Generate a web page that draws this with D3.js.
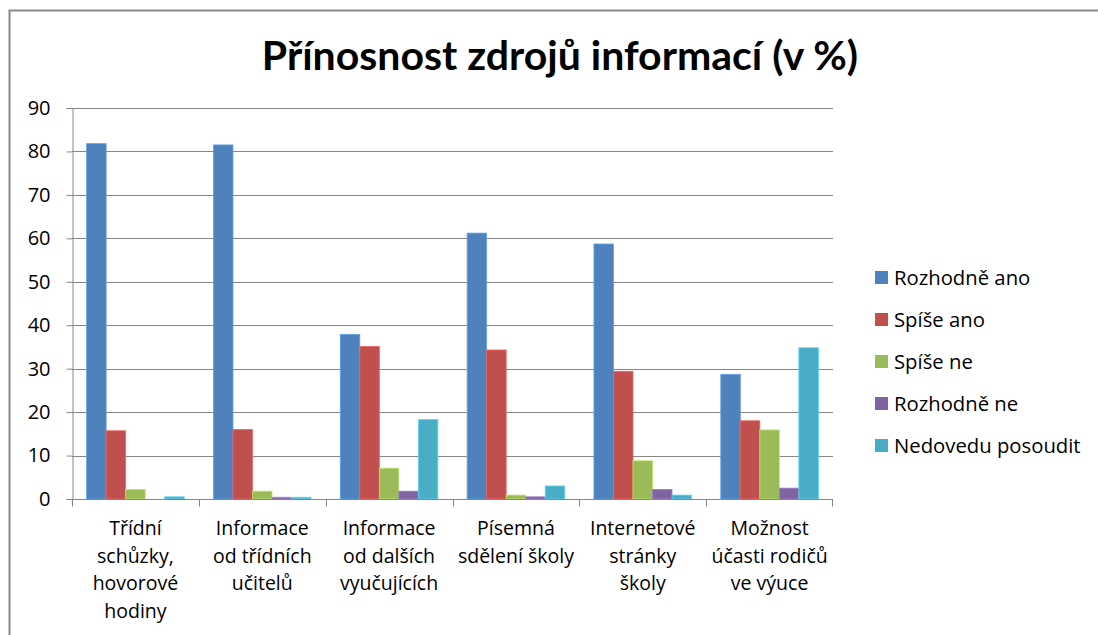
<!DOCTYPE html>
<html>
<head>
<meta charset="utf-8">
<script src="https://cdn.jsdelivr.net/npm/d3@7"></script>
<style>
  body { margin: 0; background: #fff; }
  svg { display: block; font-family: "Open Sans", Lato, sans-serif; }
</style>
</head>
<body>
<div id="chart"></div>
<script>
// categories (each label already split into its display lines)
var categories = ["trid", "ucit", "dals", "pise", "inet", "mozn"];
var categoryLines = [
    ["Třídní", "schůzky,", "hovorové", "hodiny"],
    ["Informace", "od třídních", "učitelů"],
    ["Informace", "od dalších", "vyučujících"],
    ["Písemná", "sdělení školy"],
    ["Internetové", "stránky", "školy"],
    ["Možnost", "účasti rodičů", "ve výuce"]
];
var series = ["Rozhodně ano", "Spíše ano", "Spíše ne", "Rozhodně ne", "Nedovedu posoudit"];
var colors = ["#4f81bd", "#c0504d", "#9bbb59", "#8064a2", "#4bacc6"];

// values per series, in category order
var rozhodneAno = [81.8, 81.5, 37.9, 61.2, 58.7, 28.7];
var spiseAno = [15.7, 16.0, 35.1, 34.3, 29.4, 18.0];
var spiseNe = [2.2, 1.8, 7.1, 0.9, 8.8, 15.9];
var rozhodneNe = [0, 0.4, 1.8, 0.5, 2.2, 2.5];
var nedovedu = [0.5, 0.4, 18.3, 3.0, 0.9, 34.8];
var seriesValues = [rozhodneAno, spiseAno, spiseNe, rozhodneNe, nedovedu];

var yTicks = [0, 10, 20, 30, 40, 50, 60, 70, 80, 90];

var width = 1098, height = 635;
var plot = {left: 72, right: 833, top: 108, bottom: 499};
var labelSize = 19.5;

var svg = d3.select("#chart").append("svg")
    .attr("width", width)
    .attr("height", height);

// outer frame of the chart area (runs off the right and bottom edge)
svg.append("path")
    .attr("d", "M9.5," + (height + 5) + "V10.5H" + (width + 5))
    .attr("fill", "none")
    .attr("stroke", "#888")
    .attr("stroke-width", 2);

// title
svg.append("text")
    .attr("x", 560)
    .attr("y", 70)
    .attr("text-anchor", "middle")
    .attr("font-family", "Lato, sans-serif")
    .attr("font-size", 41)
    .attr("font-weight", "bold")
    .attr("fill", "#000")
    .text("Přínosnost zdrojů informací (v %)");

var y = d3.scaleLinear().domain([0, 90]).range([plot.bottom, plot.top]);
var x = d3.scaleBand().domain(categories).range([plot.left, plot.right]);
var x1 = d3.scaleBand().domain(series).range([0, x.bandwidth()])
    .paddingInner(0).paddingOuter(0.75);

// gridlines
svg.append("g").selectAll("line")
    .data(yTicks.filter(function(d) { return d > 0; }))
    .enter().append("line")
    .attr("x1", plot.left)
    .attr("x2", plot.right)
    .attr("y1", function(d) { return Math.round(y(d)) + 0.5; })
    .attr("y2", function(d) { return Math.round(y(d)) + 0.5; })
    .attr("stroke", "#868686")
    .attr("stroke-width", 1);

// bars
var groups = svg.append("g").selectAll("g")
    .data(categories)
    .enter().append("g")
    .attr("transform", function(d) { return "translate(" + x(d) + ",0)"; });

groups.selectAll("rect")
    .data(function(d, i) {
        return series.map(function(s, j) { return {s: s, j: j, v: seriesValues[j][i]}; });
    })
    .enter().append("rect")
    .attr("x", function(d) { return x1(d.s); })
    .attr("width", x1.bandwidth())
    .attr("y", function(d) { return y(d.v); })
    .attr("height", function(d) { return y(0) - y(d.v); })
    .attr("fill", function(d) { return colors[d.j]; })
    .attr("stroke", function(d) { return d3.color(colors[d.j]).brighter(0.6); })
    .attr("stroke-width", function(d) { return d.v > 0 ? 0.8 : 0; });

// y axis
var yAxis = svg.append("g")
    .attr("transform", "translate(" + (plot.left + 0.5) + ",0)")
    .call(d3.axisLeft(y).tickValues(yTicks).tickSize(6).tickPadding(16));
yAxis.select(".domain").attr("stroke", "#868686");
yAxis.selectAll(".tick line").attr("stroke", "#868686");
yAxis.selectAll(".tick text")
    .attr("font-size", 20)
    .attr("font-family", "'Open Sans', sans-serif")
    .attr("fill", "#000");

// x axis: ticks at category boundaries
var xAxis = svg.append("g")
    .attr("transform", "translate(0," + (plot.bottom + 0.5) + ")");
xAxis.append("line")
    .attr("x1", plot.left).attr("x2", plot.right)
    .attr("stroke", "#868686");
xAxis.selectAll(".bt")
    .data(categories.concat(["end"]))
    .enter().append("line")
    .attr("class", "bt")
    .attr("x1", function(d) { return d === "end" ? plot.right - 0.5 : Math.round(x(d)) + 0.5; })
    .attr("x2", function(d) { return d === "end" ? plot.right - 0.5 : Math.round(x(d)) + 0.5; })
    .attr("y1", 0).attr("y2", 7)
    .attr("stroke", "#868686");

var labels = svg.append("g").selectAll("text")
    .data(categories)
    .enter().append("text")
    .attr("text-anchor", "middle")
    .attr("font-size", labelSize)
    .attr("fill", "#000")
    .attr("transform", function(d) {
        return "translate(" + (x(d) + x.bandwidth() / 2) + "," + 535 + ")";
    });
labels.selectAll("tspan")
    .data(function(d, i) { return categoryLines[i]; })
    .enter().append("tspan")
    .attr("x", 0)
    .attr("dy", function(d, i) { return i === 0 ? 0 : 27.5; })
    .text(function(d) { return d; });

// legend
var legend = svg.append("g").selectAll("g")
    .data(series)
    .enter().append("g")
    .attr("transform", function(d, i) { return "translate(875," + (278 + i * 42) + ")"; });
legend.append("rect")
    .attr("x", 0).attr("y", -7)
    .attr("width", 13).attr("height", 13)
    .attr("fill", function(d, i) { return colors[i]; });
legend.append("text")
    .attr("x", 19)
    .attr("y", 7)
    .attr("font-size", 20.3)
    .attr("fill", "#000")
    .text(function(d) { return d; });
</script>
</body>
</html>
